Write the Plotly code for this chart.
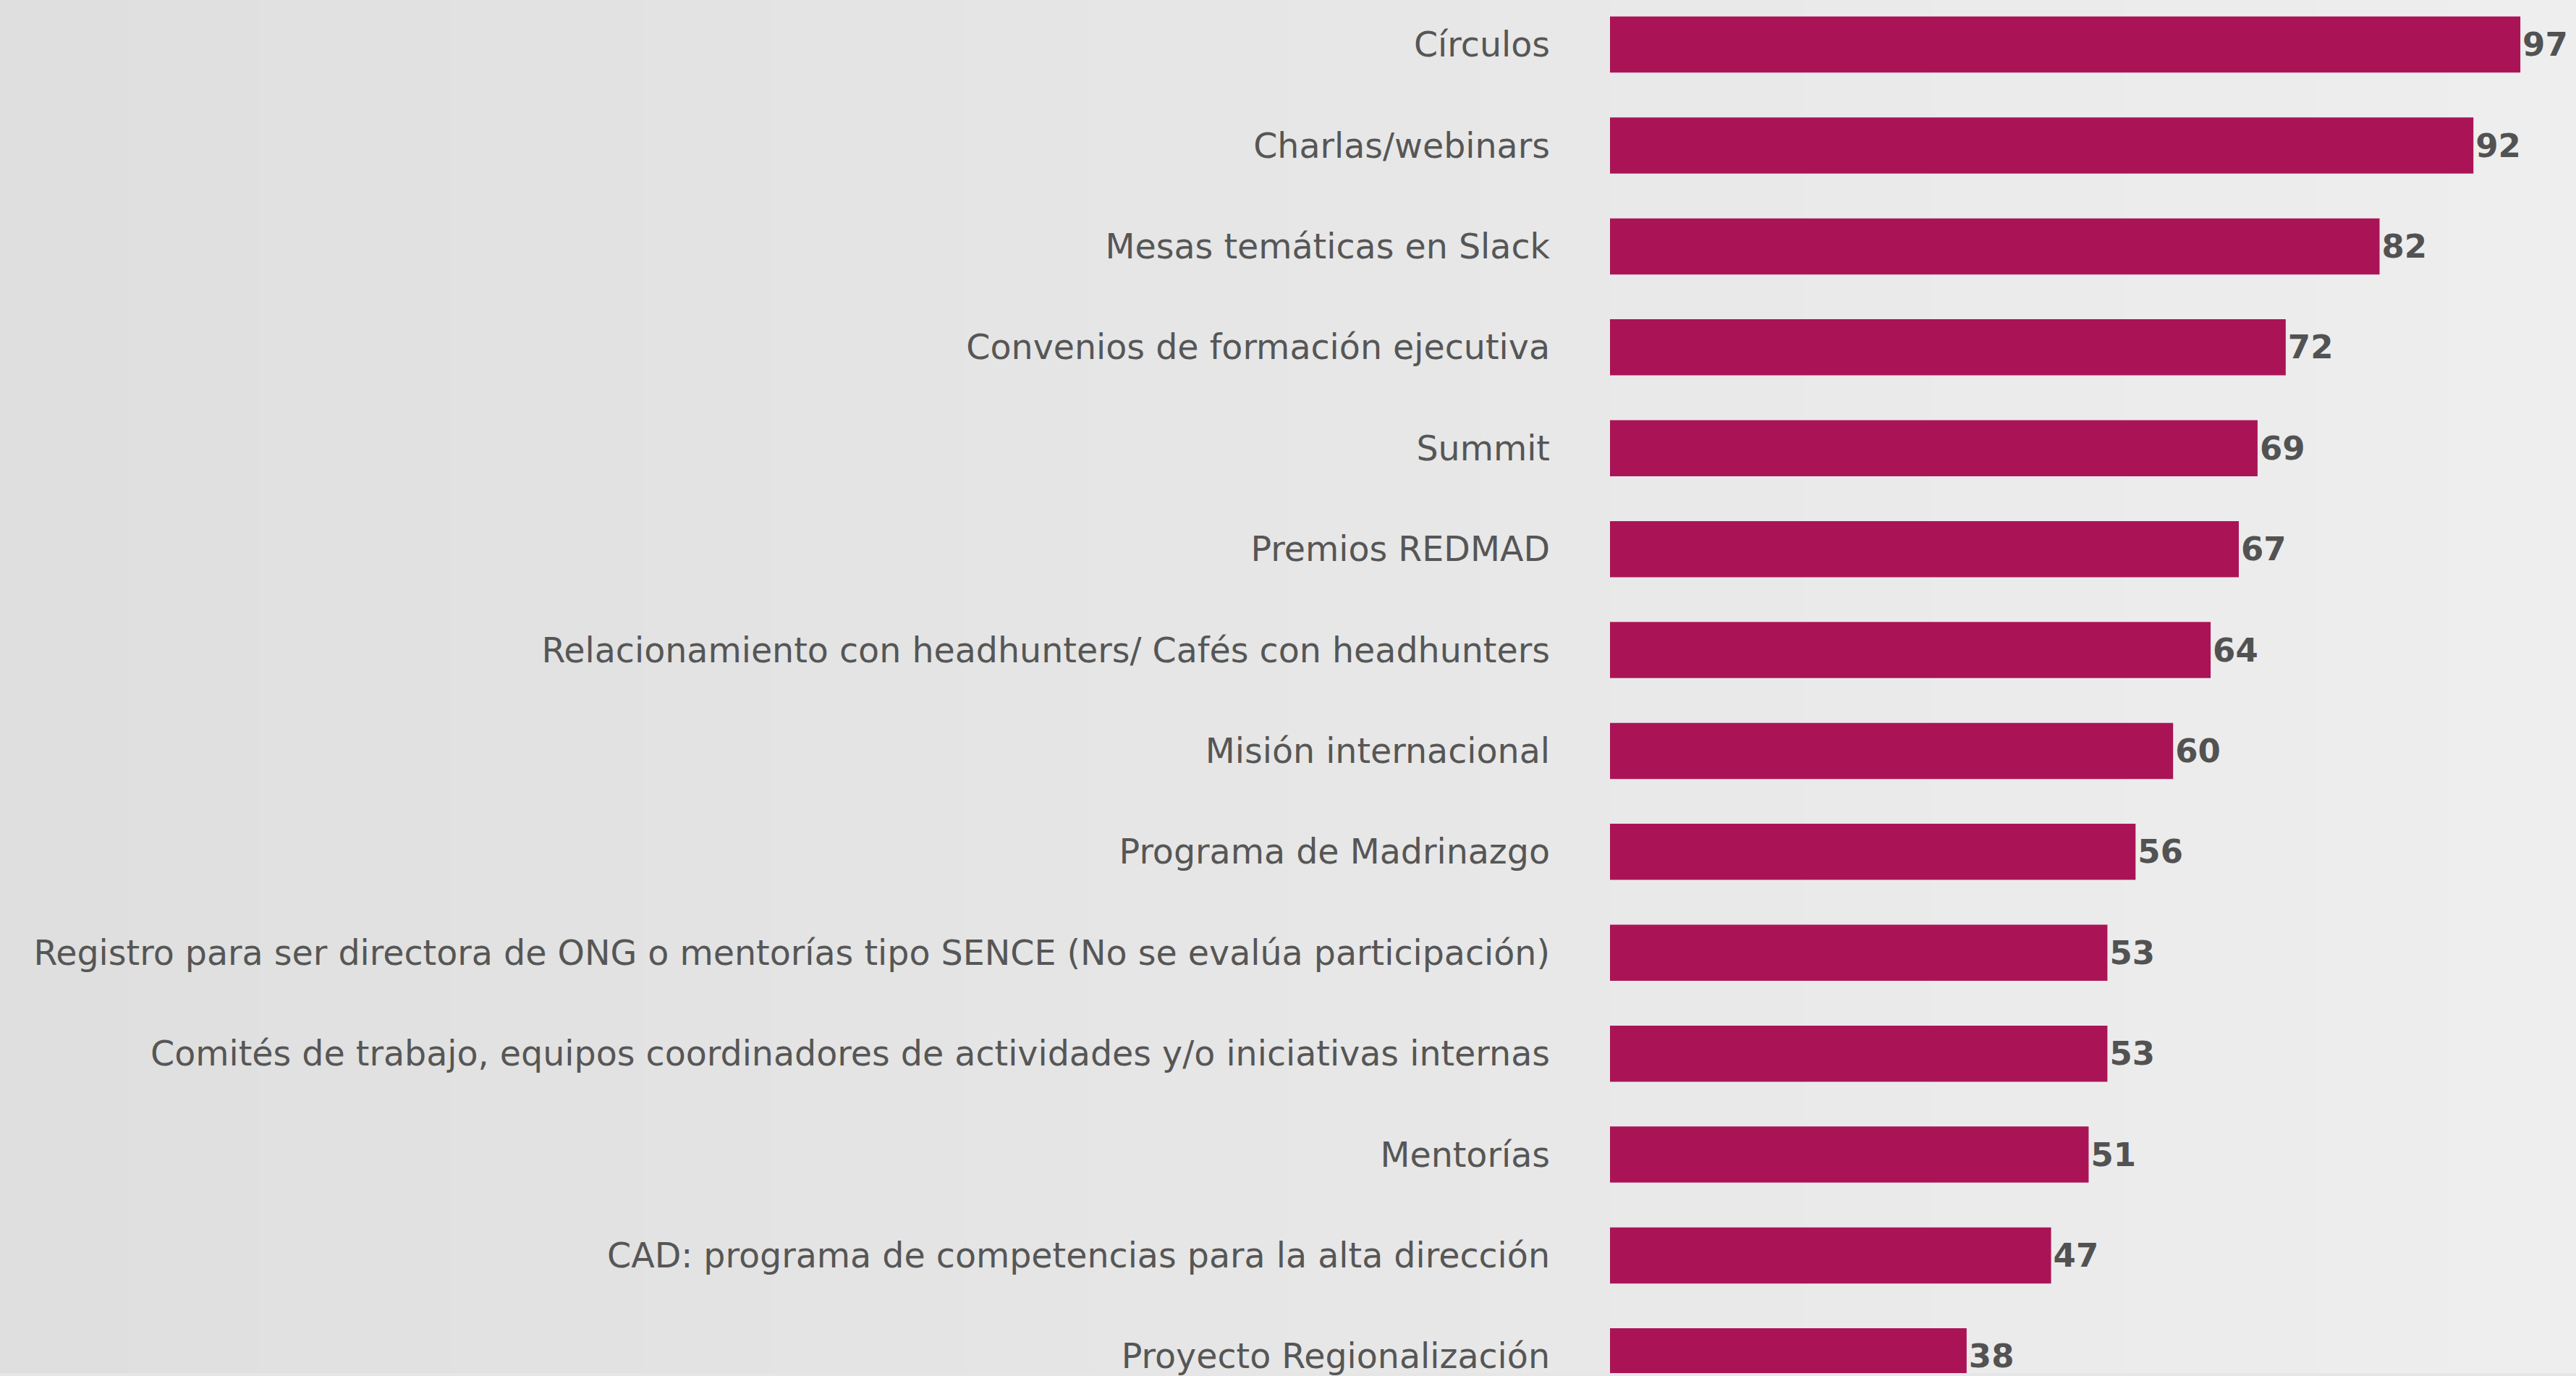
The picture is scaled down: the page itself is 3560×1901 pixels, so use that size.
import plotly.graph_objects as go

categories = [
    "Círculos",
    "Charlas/webinars",
    "Mesas temáticas en Slack",
    "Convenios de formación ejecutiva",
    "Summit",
    "Premios REDMAD",
    "Relacionamiento con headhunters/ Cafés con headhunters",
    "Misión internacional",
    "Programa de Madrinazgo",
    "Registro para ser directora de ONG o mentorías tipo SENCE (No se evalúa participación)",
    "Comités de trabajo, equipos coordinadores de actividades y/o iniciativas internas",
    "Mentorías",
    "CAD: programa de competencias para la alta dirección",
    "Proyecto Regionalización",
]
values = [97, 92, 82, 72, 69, 67, 64, 60, 56, 53, 53, 51, 47, 38]

W, H = 3560, 1901
BAR = "#AA1457"
TXT = "#565656"
FONT = "DejaVu Sans"

fig = go.Figure()
fig.add_trace(go.Bar(
    y=categories,
    x=values,
    orientation="h",
    marker=dict(color=BAR, line=dict(width=0)),
    width=0.556,
    text=[str(v) for v in values],
    textposition="outside",
    textfont=dict(family=FONT, size=45, color="#525252", weight="bold"),
    cliponaxis=False,
    hoverinfo="skip",
))

# stepped background gradient
shapes = []
n = 40
c0, c1 = 223, 238
for i in range(n):
    c = round(c0 + (c1 - c0) * i / (n - 1))
    shapes.append(dict(
        type="rect", xref="paper", yref="paper",
        x0=i / n, x1=(i + 1) / n + 0.001, y0=0, y1=1,
        fillcolor=f"rgb({c},{c},{c})", line=dict(width=0), layer="below",
    ))

fig.update_layout(
    width=W, height=H,
    margin=dict(l=0, r=0, t=0, b=0),
    paper_bgcolor="#e6e6e6",
    plot_bgcolor="rgba(0,0,0,0)",
    shapes=shapes,
    showlegend=False,
    xaxis=dict(
        domain=[2225 / W, 1],
        range=[0, (W - 2225) / 12.97],
        visible=False,
        fixedrange=True,
    ),
    yaxis=dict(
        type="category",
        categoryorder="array",
        categoryarray=categories,
        range=[13.166, -0.442],
        showgrid=False,
        zeroline=False,
        showline=False,
        ticks="",
        ticklabelstandoff=82,
        tickfont=dict(family=FONT, size=47.5, color=TXT),
        fixedrange=True,
    ),
)

fig.write_html(
    "out.html",
    config={"displayModeBar": False},
    post_script="document.body.style.margin='0';document.body.style.overflow='hidden';",
)
